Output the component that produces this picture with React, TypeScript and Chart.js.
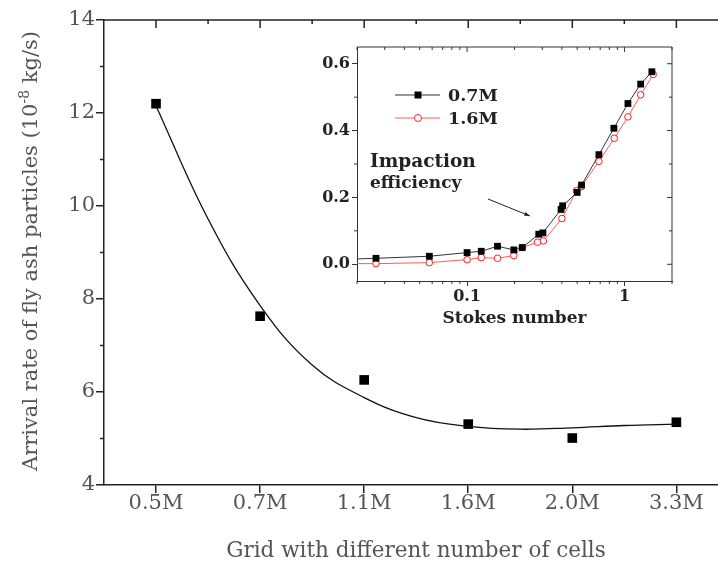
import React, { useEffect, useRef } from "react";
import { Chart, registerables } from "chart.js";

Chart.register(...registerables);

// ---------- main chart data ----------
const gridLabels = ["0.5M", "0.7M", "1.1M", "1.6M", "2.0M", "3.3M"];
const gridPos = [1, 2, 3, 4, 5, 6];
const arrivalRate = [12.2, 7.63, 6.26, 5.31, 5.01, 5.35];
// fitted curve
const fitX = [1, 1.5, 2, 2.5, 3, 3.5, 4, 4.5, 5, 5.5, 6];
const fitY = [12.15, 9.72, 7.86, 6.58, 5.88, 5.45, 5.26, 5.2, 5.23, 5.28, 5.31];
const mainYTicks = [4, 6, 8, 10, 12, 14];
const mainYMinor = [5, 7, 9, 11, 13];

// ---------- inset data ----------
const stokes07 = [0.02, 0.0264, 0.0576, 0.1, 0.123, 0.156, 0.198, 0.224, 0.285, 0.303, 0.395, 0.404, 0.5, 0.533, 0.687, 0.855, 1.05, 1.265, 1.49];
const eff07 = [0.016, 0.018, 0.024, 0.035, 0.039, 0.054, 0.043, 0.05, 0.09, 0.094, 0.164, 0.175, 0.215, 0.237, 0.328, 0.407, 0.481, 0.539, 0.576];
const stokes16 = [0.02, 0.0264, 0.0576, 0.1, 0.123, 0.156, 0.198, 0.224, 0.28, 0.305, 0.4, 0.495, 0.53, 0.687, 0.86, 1.05, 1.265, 1.52];
const eff16 = [0.002, 0.002, 0.005, 0.014, 0.02, 0.018, 0.026, 0.05, 0.066, 0.07, 0.137, 0.22, 0.232, 0.308, 0.377, 0.441, 0.507, 0.568];
const insetXTicks = [0.1, 1];
const insetXMinor = [0.02, 0.03, 0.04, 0.05, 0.06, 0.07, 0.08, 0.09, 0.2, 0.3, 0.4, 0.5, 0.6, 0.7, 0.8, 0.9, 2];
const insetYTicks = [0, 0.2, 0.4, 0.6];
const insetYMinor = [0.1, 0.3, 0.5];
const seriesNames = ["0.7M", "1.6M"];

const SERIF = "'DejaVu Serif', serif";
const TEXT = "#555";
const AXIS = "#222";

function line(ctx: CanvasRenderingContext2D, x1: number, y1: number, x2: number, y2: number) {
  ctx.beginPath();
  ctx.moveTo(x1, y1);
  ctx.lineTo(x2, y2);
  ctx.stroke();
}

const zeroPad = (s: any) => {
  s.paddingLeft = 0;
  s.paddingRight = 0;
  s.paddingTop = 0;
  s.paddingBottom = 0;
};

const mainDecor = {
  id: "mainDecor",
  afterDraw(chart: any) {
    const { ctx, chartArea: a, scales } = chart;
    const x = scales.x, y = scales.y;
    ctx.save();
    ctx.strokeStyle = AXIS;
    ctx.lineWidth = 1.5;
    // top axis
    line(ctx, a.left, a.top, a.right, a.top);
    gridPos.forEach((v) => {
      const px = x.getPixelForValue(v);
      line(ctx, px, a.top, px, a.top + 8);
    });
    [1.5, 2.5, 3.5, 4.5, 5.5].forEach((v) => {
      const px = x.getPixelForValue(v);
      line(ctx, px, a.top, px, a.top + 4);
    });
    // left minor ticks
    mainYMinor.forEach((v) => {
      const py = y.getPixelForValue(v);
      line(ctx, a.left - 4, py, a.left, py);
    });
    // x title
    ctx.fillStyle = TEXT;
    ctx.font = `21.5px ${SERIF}`;
    ctx.textAlign = "center";
    ctx.textBaseline = "alphabetic";
    ctx.fillText("Grid with different number of cells", 416, 557);
    // y title with superscript
    ctx.translate(37, 251);
    ctx.rotate(-Math.PI / 2);
    const p1 = "Arrival rate of fly ash particles (10";
    const sup = "-8";
    const p2 = " kg/s)";
    ctx.font = `21px ${SERIF}`;
    const w1 = ctx.measureText(p1).width;
    const w3 = ctx.measureText(p2).width;
    ctx.font = `14px ${SERIF}`;
    const w2 = ctx.measureText(sup).width;
    const total = w1 + w2 + w3;
    let sx = -total / 2;
    ctx.textAlign = "left";
    ctx.font = `21px ${SERIF}`;
    ctx.fillText(p1, sx, 0);
    sx += w1;
    ctx.font = `14px ${SERIF}`;
    ctx.fillText(sup, sx, -8);
    sx += w2;
    ctx.font = `21px ${SERIF}`;
    ctx.fillText(p2, sx, 0);
    ctx.restore();
  },
};

const insetDecor = {
  id: "insetDecor",
  afterDraw(chart: any) {
    const { ctx, chartArea: a, scales } = chart;
    const x = scales.x, y = scales.y;
    ctx.save();
    ctx.strokeStyle = "#333";
    ctx.lineWidth = 1;
    line(ctx, a.left, a.top, a.right, a.top);
    line(ctx, a.right, a.top, a.right, a.bottom);
    insetXMinor.forEach((v) => {
      const px = x.getPixelForValue(v);
      line(ctx, px, a.bottom, px, a.bottom + 3);
      line(ctx, px, a.top, px, a.top + 3);
    });
    insetXTicks.forEach((v) => {
      const px = x.getPixelForValue(v);
      line(ctx, px, a.top, px, a.top + 5);
    });
    insetYMinor.forEach((v) => {
      const py = y.getPixelForValue(v);
      line(ctx, a.left - 3, py, a.left, py);
      line(ctx, a.right - 3, py, a.right, py);
    });
    insetYTicks.forEach((v) => {
      const py = y.getPixelForValue(v);
      line(ctx, a.right - 5, py, a.right, py);
    });
    // x title
    ctx.fillStyle = "#222";
    ctx.font = `bold 17px ${SERIF}`;
    ctx.textAlign = "center";
    ctx.textBaseline = "alphabetic";
    ctx.fillText("Stokes number", (a.left + a.right) / 2, 293);
    // legend
    const ds = chart.data.datasets;
    const rows = [65, 88];
    rows.forEach((ry, i) => {
      const d = ds[i];
      ctx.strokeStyle = d.borderColor;
      ctx.lineWidth = 1;
      line(ctx, 95, ry, 140, ry);
      if (i === 0) {
        ctx.fillStyle = "#000";
        ctx.fillRect(114.5, ry - 3.5, 7, 7);
      } else {
        ctx.beginPath();
        ctx.arc(118, ry, 3.5, 0, Math.PI * 2);
        ctx.fillStyle = "#fff";
        ctx.fill();
        ctx.strokeStyle = "#ff2020";
        ctx.stroke();
      }
      ctx.fillStyle = "#222";
      ctx.font = `bold 17.5px ${SERIF}`;
      ctx.textAlign = "left";
      ctx.textBaseline = "middle";
      ctx.fillText(seriesNames[i], 148, ry + 1);
    });
    // annotation
    ctx.fillStyle = "#222";
    ctx.textBaseline = "alphabetic";
    ctx.font = `bold 18.5px ${SERIF}`;
    ctx.fillText("Impaction", 70, 137);
    ctx.font = `bold 17px ${SERIF}`;
    ctx.fillText("efficiency", 70, 158);
    // arrow
    ctx.strokeStyle = "#222";
    ctx.lineWidth = 1;
    const x1 = 188, y1 = 169, x2 = 230, y2 = 186;
    line(ctx, x1, y1, x2, y2);
    const ang = Math.atan2(y2 - y1, x2 - x1);
    ctx.beginPath();
    ctx.moveTo(x2, y2);
    ctx.lineTo(x2 - 6 * Math.cos(ang - 0.35), y2 - 6 * Math.sin(ang - 0.35));
    ctx.lineTo(x2 - 6 * Math.cos(ang + 0.35), y2 - 6 * Math.sin(ang + 0.35));
    ctx.closePath();
    ctx.fillStyle = "#222";
    ctx.fill();
    ctx.restore();
  },
};

export default function App() {
  const mainRef = useRef<HTMLCanvasElement>(null);
  const insetRef = useRef<HTMLCanvasElement>(null);

  useEffect(() => {
    const main = new Chart(mainRef.current as HTMLCanvasElement, {
      type: "scatter",
      data: {
        datasets: [
          {
            label: "fit",
            data: fitX.map((v, i) => ({ x: v, y: fitY[i] })),
            showLine: true,
            borderColor: "#111",
            borderWidth: 1.3,
            pointRadius: 0,
            tension: 0.4,
          } as any,
          {
            label: "rate",
            data: gridPos.map((v, i) => ({ x: v, y: arrivalRate[i] })),
            showLine: false,
            pointStyle: "rect",
            pointRadius: 6.8,
            backgroundColor: "#000",
            borderColor: "#000",
            borderWidth: 0,
          },
        ],
      },
      options: {
        responsive: false,
        animation: false,
        layout: { autoPadding: false, padding: { top: 20, right: 0, left: 0, bottom: 0 } },
        plugins: { legend: { display: false }, tooltip: { enabled: false } },
        scales: {
          x: {
            type: "linear",
            min: 0.5,
            max: 6.4,
            afterBuildTicks: (s: any) => {
              s.ticks = gridPos.map((v) => ({ value: v }));
            },
            ticks: {
              callback: (v: any) => gridLabels[Math.round(v) - 1],
              font: { family: SERIF, size: 21 },
              color: TEXT,
              padding: -2,
              maxRotation: 0,
              autoSkip: false,
            },
            grid: { drawOnChartArea: false, tickLength: 8, color: AXIS, lineWidth: 1.5 },
            border: { color: AXIS, width: 1.5 },
            afterFit: (s: any) => {
              s.height = 78;
              zeroPad(s);
            },
          },
          y: {
            type: "linear",
            min: 4,
            max: 14,
            afterBuildTicks: (s: any) => {
              s.ticks = mainYTicks.map((v) => ({ value: v }));
            },
            ticks: {
              font: { family: SERIF, size: 21 },
              color: TEXT,
              padding: 1,
            },
            grid: { drawOnChartArea: false, tickLength: 8, color: AXIS, lineWidth: 1.5 },
            border: { color: AXIS, width: 1.5 },
            afterFit: (s: any) => {
              s.width = 104;
              zeroPad(s);
            },
          },
        },
      },
      plugins: [mainDecor],
    });

    const inset = new Chart(insetRef.current as HTMLCanvasElement, {
      type: "scatter",
      data: {
        datasets: [
          {
            label: seriesNames[0],
            data: stokes07.map((v, i) => ({ x: v, y: eff07[i] })),
            showLine: true,
            borderColor: "#333",
            borderWidth: 1,
            pointStyle: "rect",
            pointRadius: stokes07.map((_, i) => (i === 0 ? 0 : 4.8)),
            pointBackgroundColor: "#000",
            pointBorderColor: "#000",
            pointBorderWidth: 0,
            tension: 0,
          } as any,
          {
            label: seriesNames[1],
            data: stokes16.map((v, i) => ({ x: v, y: eff16[i] })),
            showLine: true,
            borderColor: "#ff5a5a",
            borderWidth: 1,
            pointStyle: "circle",
            pointRadius: stokes16.map((_, i) => (i === 0 ? 0 : 3.3)),
            pointBackgroundColor: "#fff",
            pointBorderColor: "#ff1a1a",
            pointBorderWidth: 1,
            tension: 0,
          } as any,
        ],
      },
      options: {
        responsive: false,
        animation: false,
        layout: { autoPadding: false, padding: { top: 17, right: 38, left: 0, bottom: 0 } },
        plugins: { legend: { display: false }, tooltip: { enabled: false } },
        scales: {
          x: {
            type: "logarithmic",
            min: 0.02,
            max: 2,
            afterBuildTicks: (s: any) => {
              s.ticks = insetXTicks.map((v) => ({ value: v, major: true }));
            },
            ticks: {
              callback: (v: any) => (v < 0.5 ? "0.1" : "1"),
              font: { family: SERIF, size: 16, weight: "bold" },
              color: "#222",
              padding: 1,
              maxRotation: 0,
              autoSkip: false,
            },
            grid: { drawOnChartArea: false, tickLength: 5, color: "#333", lineWidth: 1 },
            border: { color: "#333", width: 1 },
            afterFit: (s: any) => {
              s.height = 59;
              zeroPad(s);
            },
          },
          y: {
            type: "linear",
            min: -0.05,
            max: 0.65,
            afterBuildTicks: (s: any) => {
              s.ticks = insetYTicks.map((v) => ({ value: v }));
            },
            ticks: {
              callback: (v: any) => Number(v).toFixed(1),
              font: { family: SERIF, size: 16, weight: "bold" },
              color: "#222",
              padding: 2,
            },
            grid: { drawOnChartArea: false, tickLength: 5, color: "#333", lineWidth: 1 },
            border: { color: "#333", width: 1 },
            afterFit: (s: any) => {
              s.width = 57;
              zeroPad(s);
            },
          },
        },
      },
      plugins: [insetDecor],
    });

    return () => {
      main.destroy();
      inset.destroy();
    };
  }, []);

  return (
    <div style={{ position: "absolute", left: 0, top: 0, width: 718, height: 563, background: "#fff" }}>
      <canvas ref={mainRef} width={718} height={563} style={{ position: "absolute", left: 0, top: 0 }} />
      <canvas ref={insetRef} width={410} height={310} style={{ position: "absolute", left: 300, top: 30 }} />
    </div>
  );
}
